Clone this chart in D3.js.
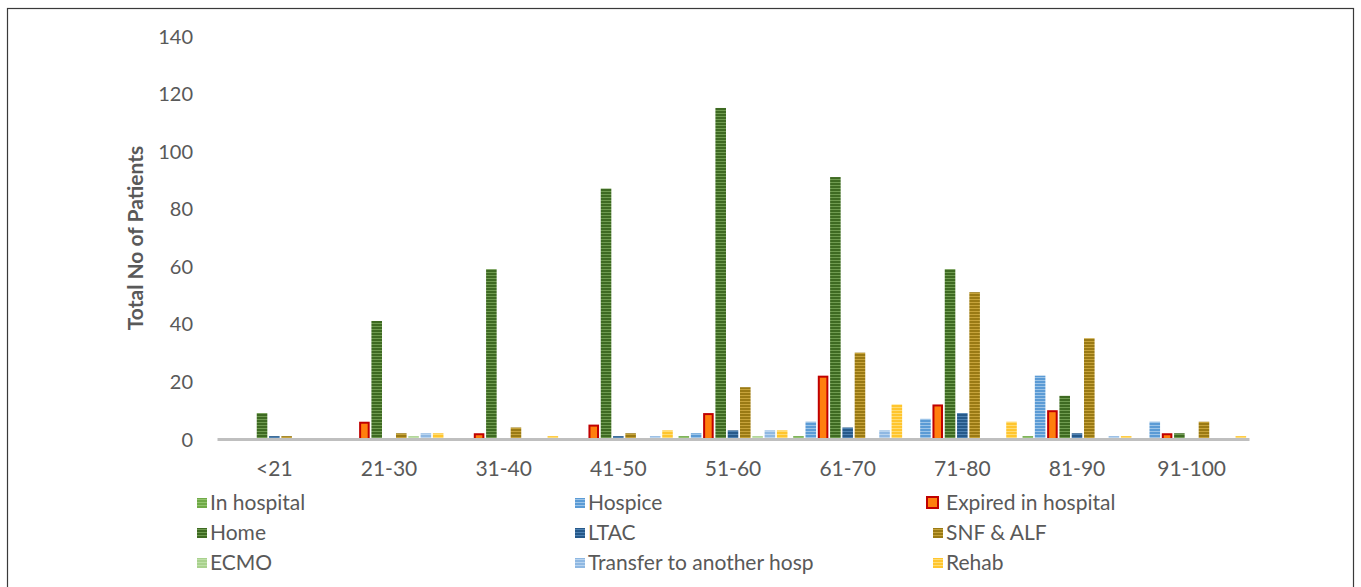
<!DOCTYPE html>
<html>
<head>
<meta charset="utf-8">
<script src="https://cdn.jsdelivr.net/npm/d3@7"></script>
<style>
  html, body { margin: 0; padding: 0; background: #fff; }
  svg { display: block; font-family: Lato, "Open Sans", sans-serif; }
</style>
</head>
<body>
<svg id="chart" width="1361" height="587"></svg>
<script>
// ---- data ----
const categories = ["<21", "21-30", "31-40", "41-50", "51-60", "61-70", "71-80", "81-90", "91-100"];
const seriesNames = ["In hospital", "Hospice", "Expired in hospital", "Home", "LTAC", "SNF & ALF", "ECMO", "Transfer to another hosp", "Rehab"];
const inHospital = [0, 0, 0, 0, 1, 1, 0, 1, 0];
const hospice    = [0, 0, 0, 0, 2, 6, 7, 22, 6];
const expired    = [0, 6, 2, 5, 9, 22, 12, 10, 2];
const home       = [9, 41, 59, 87, 115, 91, 59, 15, 2];
const ltac       = [1, 0, 0, 1, 3, 4, 9, 2, 0];
const snfAlf     = [1, 2, 4, 2, 18, 30, 51, 35, 6];
const ecmo       = [0, 1, 0, 0, 1, 0, 0, 0, 0];
const transfer   = [0, 2, 0, 1, 3, 3, 0, 1, 0];
const rehab      = [0, 2, 1, 3, 3, 12, 6, 1, 1];
const seriesValues = [inHospital, hospice, expired, home, ltac, snfAlf, ecmo, transfer, rehab];
const yTicks = [0, 20, 40, 60, 80, 100, 120, 140];
const yTitle = "Total No of Patients";

// ---- styles ----
const styles = [
  { base: "#6fa947", stripe: "#93c46e" },          // In hospital
  { base: "#5b9bd5", stripe: "#9cc4e8" },          // Hospice
  { base: "#ff7f0e", stroke: "#c00000", flat: true }, // Expired
  { base: "#3e6a22", stripe: "#6f9b50" },          // Home
  { base: "#26598a", stripe: "#4f82b3" },          // LTAC
  { base: "#9a7a14", stripe: "#c7a33a" },          // SNF & ALF
  { base: "#a9d18e", stripe: "#bfe0a8" },          // ECMO
  { base: "#8fb8e2", stripe: "#b9d4ef" },          // Transfer
  { base: "#ffc52e", stripe: "#ffdc73" }           // Rehab
];

const svg = d3.select("#chart");
svg.append("rect").attr("width", 1361).attr("height", 587).attr("fill", "#fff");

const defs = svg.append("defs");
styles.forEach((s, i) => {
  if (s.flat) return;
  const p = defs.append("pattern").attr("id", "pat" + i)
    .attr("patternUnits", "userSpaceOnUse").attr("width", 4).attr("height", 3);
  p.append("rect").attr("width", 4).attr("height", 3).attr("fill", s.base);
  p.append("rect").attr("y", 2).attr("width", 4).attr("height", 1).attr("fill", s.stripe);
});
const fillOf = i => styles[i].flat ? styles[i].base : `url(#pat${i})`;

// frame
svg.append("rect").attr("x", 7.5).attr("y", 8.5).attr("width", 1346).attr("height", 620)
  .attr("fill", "none").attr("stroke", "#3a3a3a").attr("stroke-width", 1.2);

// ---- scales ----
const x0 = d3.scaleBand().domain(categories).range([217, 1249])
  .paddingInner(0.035).paddingOuter(0.0175);
const x1 = d3.scaleBand().domain(d3.range(seriesNames.length)).range([0, x0.bandwidth()])
  .paddingInner(0.14).paddingOuter(0.07);
const y = d3.scaleLinear().domain([0, 140]).range([439, 36]);

// y tick labels
const yAxis = d3.axisLeft(y).tickValues(yTicks).tickSize(0).tickPadding(0);
const gy = svg.append("g").attr("transform", "translate(193,0)").call(yAxis);
gy.select(".domain").remove();
gy.selectAll("text").attr("font-size", 20).attr("fill", "#595959")
  .attr("font-family", "Lato, sans-serif").attr("dy", "0.35em");

// y title
svg.append("text").attr("transform", "translate(143,238) rotate(-90)")
  .attr("text-anchor", "middle").attr("font-size", 21).attr("font-weight", "bold")
  .attr("fill", "#595959").text(yTitle);

// bars
const groups = svg.append("g").selectAll("g").data(categories).join("g")
  .attr("transform", d => `translate(${x0(d)},0)`);
groups.selectAll("rect")
  .data((c, ci) => seriesValues.map((vals, si) => ({ si, v: vals[ci] })).filter(d => d.v > 0))
  .join("rect")
  .attr("x", d => x1(d.si) + (styles[d.si].flat ? 1 : 0))
  .attr("width", d => x1.bandwidth() - (styles[d.si].flat ? 2 : 0))
  .attr("y", d => y(d.v) + (styles[d.si].flat ? 1 : 0))
  .attr("height", d => y(0) - y(d.v) - (styles[d.si].flat ? 1 : 0))
  .attr("fill", d => fillOf(d.si))
  .attr("stroke", d => styles[d.si].stroke || "none")
  .attr("stroke-width", 2);

// baseline + x labels
const xAxis = d3.axisBottom(x0).tickSize(0).tickPadding(0);
const gx = svg.append("g").attr("transform", "translate(0,439)").call(xAxis);
gx.select(".domain").attr("stroke", "#bfbfbf").attr("stroke-width", 3);
gx.selectAll("text").attr("font-size", 21).attr("fill", "#595959")
  .attr("font-family", "Lato, sans-serif").attr("y", 30).attr("dy", "0.35em");

// legend
const legendTextX = [210, 588, 946];
const legendRowY = [503, 533, 563];
const leg = svg.append("g").selectAll("g").data(seriesNames).join("g")
  .attr("transform", (d, i) => `translate(${legendTextX[i % 3]},${legendRowY[Math.floor(i / 3)]})`);
leg.append("rect")
  .attr("x", (d, i) => styles[i].flat ? -19 : -13)
  .attr("y", (d, i) => styles[i].flat ? -6 : -5)
  .attr("width", (d, i) => styles[i].flat ? 11 : 10)
  .attr("height", (d, i) => styles[i].flat ? 11 : 10)
  .attr("fill", (d, i) => fillOf(i))
  .attr("stroke", (d, i) => styles[i].stroke || "none")
  .attr("stroke-width", 2);
leg.append("text").attr("dy", "0.35em").attr("font-size", 21).attr("fill", "#595959")
  .text(d => d);
</script>
</body>
</html>
